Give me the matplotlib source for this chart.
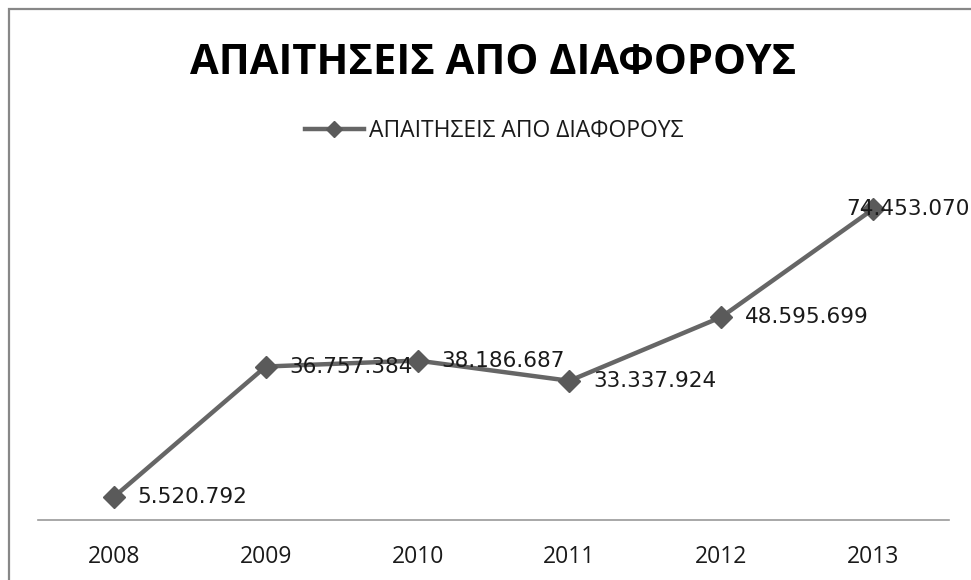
import matplotlib
matplotlib.use("Agg")
import matplotlib.pyplot as plt
from matplotlib.patches import Rectangle

years = ["2008", "2009", "2010", "2011", "2012", "2013"]
values = [5520792, 36757384, 38186687, 33337924, 48595699, 74453070]
labels = ["5.520.792", "36.757.384", "38.186.687", "33.337.924", "48.595.699", "74.453.070"]
title = "ΑΠΑΙΤΗΣΕΙΣ ΑΠΟ ΔΙΑΦΟΡΟΥΣ"
series_name = "ΑΠΑΙΤΗΣΕΙΣ ΑΠΟ ΔΙΑΦΟΡΟΥΣ"

font = ["Open Sans", "DejaVu Sans"]

W, H = 971, 580
fig = plt.figure(figsize=(W / 100, H / 100), dpi=100)
fig.patch.set_facecolor("white")

# outer chart border
fig.patches.append(Rectangle((9 / W, -0.05), 1.2, 1 - 9 / H + 0.05, transform=fig.transFigure,
                             fill=False, edgecolor="#878787", linewidth=1.6, zorder=0))

left, right = 38 / W, 949 / W
y0px, ytop_px = 520, 186
ax = fig.add_axes([left, 1 - y0px / H, right - left, (y0px - ytop_px) / H])
ax.set_facecolor("none")
x = list(range(len(years)))
line_color = "#666666"
ax.plot(x, values, color=line_color, linewidth=3.2, marker="D", markersize=11.5,
        markerfacecolor="#5a5a5a", markeredgecolor="#5a5a5a", label=series_name, zorder=3)
ax.set_xlim(-0.5, len(years) - 0.5)
ax.set_ylim(0, 80000000)
for s in ["left", "right", "top"]:
    ax.spines[s].set_visible(False)
ax.spines["bottom"].set_color("#9a9a9a")
ax.spines["bottom"].set_linewidth(1.2)
ax.set_yticks([])
ax.set_xticks(x)
ax.set_xticklabels(years, fontsize=16.5, family=font, color="#1a1a1a")
ax.tick_params(axis="x", length=0, pad=18)

for i, (v, lab) in enumerate(zip(values, labels)):
    dx = -19 if i == len(values) - 1 else 17
    ax.annotate(lab, (i, v), xytext=(dx, 0), textcoords="offset points", ha="left", va="center",
                fontsize=15.5, color="#1a1a1a", zorder=4, family="DejaVu Sans")

fig.text(493 / W, 1 - 64 / H, title, ha="center", va="center", fontsize=30, fontweight="bold",
         family=font, color="black")

leg = fig.legend(loc="center", bbox_to_anchor=(494 / W, 1 - 131 / H), frameon=False,
                 prop={"family": font, "size": 16.5}, handlelength=2.6,
                 handletextpad=0.2, markerscale=0.75)
for t in leg.get_texts():
    t.set_color("#1a1a1a")

fig.savefig("out.png", dpi=100, facecolor="white")
